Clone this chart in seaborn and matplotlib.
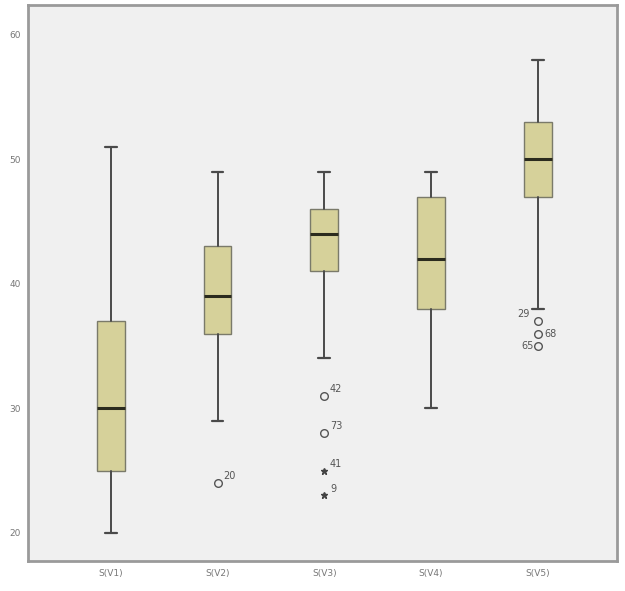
import matplotlib
matplotlib.use("Agg")
import matplotlib.pyplot as plt
import seaborn as sns

# box summary values
groups = ["S(V1)", "S(V2)", "S(V3)", "S(V4)", "S(V5)"]
whisker_low = [20, 29, 34, 30, 38]
q1 = [25, 36, 41, 38, 47]
median = [30, 39, 44, 42, 50]
q3 = [37, 43, 46, 47, 53]
whisker_high = [51, 49, 49, 49, 58]

# outliers: (group index, value, case label, marker, label side)
out_group = [1, 2, 2, 2, 2, 4, 4, 4]
out_value = [24, 31, 28, 25, 23, 37, 36, 35]
out_case = ["20", "42", "73", "41", "9", "29", "68", "65"]
out_marker = ["o", "o", "o", "*", "*", "o", "o", "o"]
out_side = ["ur", "ur", "ur", "ur", "ur", "ul", "r", "l"]

y_ticks = [20, 30, 40, 50, 60]

sns.set_style("white")
plt.rcParams['font.family'] = ['DejaVu Sans']

fig = plt.figure(figsize=(6.25, 5.91), dpi=100)
ax = fig.add_axes([0.045, 0.051, 0.942, 0.941])
ax.set_facecolor("#f0f0f0")

stats = []
for i, name in enumerate(groups):
    stats.append({
        "label": name, "whislo": whisker_low[i], "q1": q1[i], "med": median[i],
        "q3": q3[i], "whishi": whisker_high[i], "fliers": [],
    })

ax.bxp(stats, positions=range(len(groups)), widths=0.26, patch_artist=True,
       showfliers=False,
       boxprops=dict(facecolor="#d6d19a", edgecolor="#7a7a6a", linewidth=1.0),
       medianprops=dict(color="#2b2b1e", linewidth=2.2),
       whiskerprops=dict(color="#4a4a4a", linewidth=1.4),
       capprops=dict(color="#4a4a4a", linewidth=1.6),
       capwidths=0.11)

offsets = {"ur": (4, 5, "left"), "r": (5, 0, "left"), "l": (-3, 0, "right"),
           "ul": (-6, 5, "right")}
for g, v, c, m, s in zip(out_group, out_value, out_case, out_marker, out_side):
    if m == "o":
        ax.plot(g, v, marker="o", markersize=5.5, markerfacecolor="none",
                markeredgecolor="#555555", markeredgewidth=1.0, linestyle="none")
    else:
        ax.plot(g, v, marker="*", markersize=5, color="#444444", linestyle="none")
    dx, dy, ha = offsets[s]
    ax.annotate(c, (g, v), xytext=(dx, dy), textcoords="offset points",
                ha=ha, va="center", fontsize=7, color="#555555")

ax.set_xlim(-0.775, 4.74)
ax.set_ylim(17.75, 62.4)
ax.set_yticks(y_ticks)
ax.set_yticklabels([str(t) for t in y_ticks])
ax.set_xticks(range(len(groups)))
ax.set_xticklabels(groups)
ax.tick_params(axis="both", direction="out", length=4, width=1.2, color="#555555",
               labelsize=6.5, labelcolor="#777777", pad=2)
ax.tick_params(axis="y", pad=1)
for side in ["left", "right", "top", "bottom"]:
    ax.spines[side].set_color("#9a9a9a")
    ax.spines[side].set_linewidth(2)

fig.savefig("out.png", dpi=100)
